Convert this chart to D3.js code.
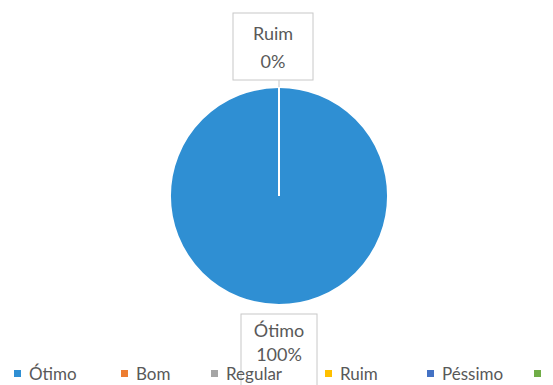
<!DOCTYPE html>
<html>
<head>
<meta charset="utf-8">
<script src="https://cdn.jsdelivr.net/npm/d3@7"></script>
<style>
  html, body { margin: 0; padding: 0; background: #fff; }
  svg { display: block; font-family: Lato, "Open Sans", sans-serif; }
</style>
</head>
<body>
<div id="chart"></div>
<script>
const categories = ["Ótimo", "Bom", "Regular", "Ruim", "Péssimo", ""];
const values = [100, 0, 0, 0, 0, 0];
const colors = ["#2f8fd3", "#ed7d31", "#a5a5a5", "#ffc000", "#4472c4", "#70ad47"];
const labelled = ["Ótimo", "Ruim"];

const w = 553;
const h = 385;
const cx = 279;
const cy = 196;
const r = 109;

const svg = d3.select("#chart").append("svg").attr("width", w).attr("height", h);

const data = categories.map((c, i) => ({ name: c, value: values[i], color: colors[i] }));
const total = d3.sum(values);

const pie = d3.pie().sort(null).value((d) => d.value);
const arc = d3.arc().innerRadius(0).outerRadius(r);
const arcs = pie(data);

const g = svg.append("g").attr("transform", `translate(${cx},${cy})`);

g.selectAll("path")
  .data(arcs)
  .enter()
  .append("path")
  .attr("d", arc)
  .attr("fill", (d) => d.data.color)
  .attr("stroke", "#fff")
  .attr("stroke-width", 2);

// data labels: zero slices sit at the top, the full slice label goes below
const labelArcs = arcs.filter((d) => labelled.includes(d.data.name));
labelArcs.forEach((d) => {
  const zero = d.data.value === 0;
  const bx = zero ? -6 : 0;
  const by = zero ? -183 : r + 9;
  const bw = zero ? 80 : 76;
  const bh = zero ? 67 : 80;
  const lg = g.append("g").attr("transform", `translate(${bx},${by})`);
  lg.append("rect")
    .attr("x", -bw / 2)
    .attr("y", 0)
    .attr("width", bw)
    .attr("height", bh)
    .attr("fill", "#fff")
    .attr("stroke", "#c8c8c8")
    .attr("stroke-width", 1);
  lg.append("text")
    .attr("text-anchor", "middle")
    .attr("y", zero ? 27 : 23)
    .attr("font-size", 18)
    .attr("fill", "#595959")
    .text(d.data.name);
  lg.append("text")
    .attr("text-anchor", "middle")
    .attr("y", zero ? 55 : 47)
    .attr("font-size", 18)
    .attr("fill", "#595959")
    .text(d3.format(".0%")(d.data.value / total));
  if (zero) {
    g.append("line")
      .attr("x1", 0).attr("x2", 0)
      .attr("y1", by + bh).attr("y2", -r)
      .attr("stroke", "#c8c8c8");
  }
});

// legend
const legendX = [14, 121, 211, 325, 427, 534];
const legend = svg.append("g");
const items = legend.selectAll("g")
  .data(data)
  .enter()
  .append("g")
  .attr("transform", (d, i) => `translate(${legendX[i]},374)`);
items.append("rect")
  .attr("x", 0).attr("y", -4)
  .attr("width", 7).attr("height", 7)
  .attr("fill", (d) => d.color);
items.append("text")
  .attr("x", 15)
  .attr("y", 6)
  .attr("font-size", 17)
  .attr("fill", "#595959")
  .text((d) => d.name);
</script>
</body>
</html>
